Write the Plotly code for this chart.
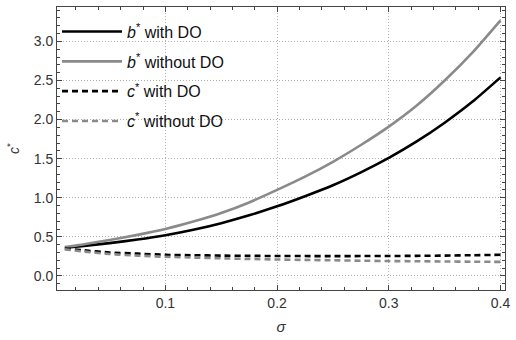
import plotly.graph_objects as go

sigma = [0.01, 0.025, 0.05, 0.075, 0.10, 0.125, 0.15, 0.175, 0.20,
         0.225, 0.25, 0.275, 0.30, 0.325, 0.35, 0.375, 0.40]
b_with = [0.36, 0.38, 0.42, 0.465, 0.52, 0.59, 0.675, 0.775, 0.89,
          1.02, 1.16, 1.325, 1.51, 1.72, 1.96, 2.23, 2.54]
b_without = [0.37, 0.40, 0.46, 0.525, 0.60, 0.695, 0.805, 0.94, 1.10,
             1.27, 1.46, 1.675, 1.91, 2.18, 2.50, 2.86, 3.27]
c_with = [0.35, 0.33, 0.30, 0.285, 0.27, 0.265, 0.26, 0.257, 0.255,
          0.254, 0.253, 0.254, 0.255, 0.257, 0.26, 0.265, 0.27]
c_without = [0.34, 0.315, 0.28, 0.26, 0.245, 0.235, 0.225, 0.217, 0.21,
             0.205, 0.20, 0.195, 0.19, 0.188, 0.185, 0.182, 0.18]

x_ticks = [0.1, 0.2, 0.3, 0.4]
y_ticks = [0.0, 0.5, 1.0, 1.5, 2.0, 2.5, 3.0]

BLACK = "#000000"
GRAY = "#8a8a8a"
FONT = "Liberation Sans, Arial"

series = [
    ("<i>b</i><sup>*</sup> with DO", b_with, BLACK, "solid"),
    ("<i>b</i><sup>*</sup> without DO", b_without, GRAY, "solid"),
    ("<i>c</i><sup>*</sup> with DO", c_with, BLACK, "6px,4px"),
    ("<i>c</i><sup>*</sup> without DO", c_without, GRAY, "6px,4px"),
]

fig = go.Figure()
for i, (name, ys, col, dash) in enumerate(series):
    fig.add_trace(go.Scatter(
        x=sigma, y=ys, mode="lines", name=name, legendgroup=f"g{i}",
        line=dict(color=col, width=2.6, dash=dash, shape="spline", smoothing=0.6),
    ))

axis_common = dict(
    showline=True, linecolor="#444", linewidth=1, mirror="allticks",
    ticks="inside", ticklen=5, tickcolor="#444", tickwidth=1,
    showgrid=True, gridcolor="#b0b0b0", griddash="1px,2px", gridwidth=1,
    zeroline=False,
    tickfont=dict(family=FONT, size=14, color="#333"),
    minor=dict(ticks="inside", ticklen=3, tickcolor="#444", showgrid=False),
)

fig.update_xaxes(
    range=[0.003, 0.404], tickvals=x_ticks, ticktext=[f"{v:.1f}" for v in x_ticks],
    minor_dtick=0.02,
    title=dict(text="<i>σ</i>", font=dict(family=FONT, size=15, color="#333"), standoff=11),
    **axis_common,
)
fig.update_yaxes(
    range=[-0.18, 3.44], tickvals=y_ticks, ticktext=[f"{v:.1f}" for v in y_ticks],
    minor_dtick=0.1,
    title=dict(text="<i>c</i><sup>*</sup>", font=dict(family=FONT, size=14, color="#333"), standoff=10),
    **axis_common,
)

fig.update_layout(
    width=516, height=340,
    margin=dict(l=57, r=6, t=7, b=50),
    paper_bgcolor="white", plot_bgcolor="white",
    showlegend=True,
    legend=dict(
        x=0.0, y=0.973, xanchor="left", yanchor="top",
        bgcolor="rgba(255,255,255,0)", borderwidth=0,
        font=dict(family=FONT, size=16, color="#111"),
        tracegroupgap=6, traceorder="grouped", itemwidth=60,
    ),
)

fig.write_html("out.html", config={"displayModeBar": False},
               post_script="document.body.style.margin='0';")
